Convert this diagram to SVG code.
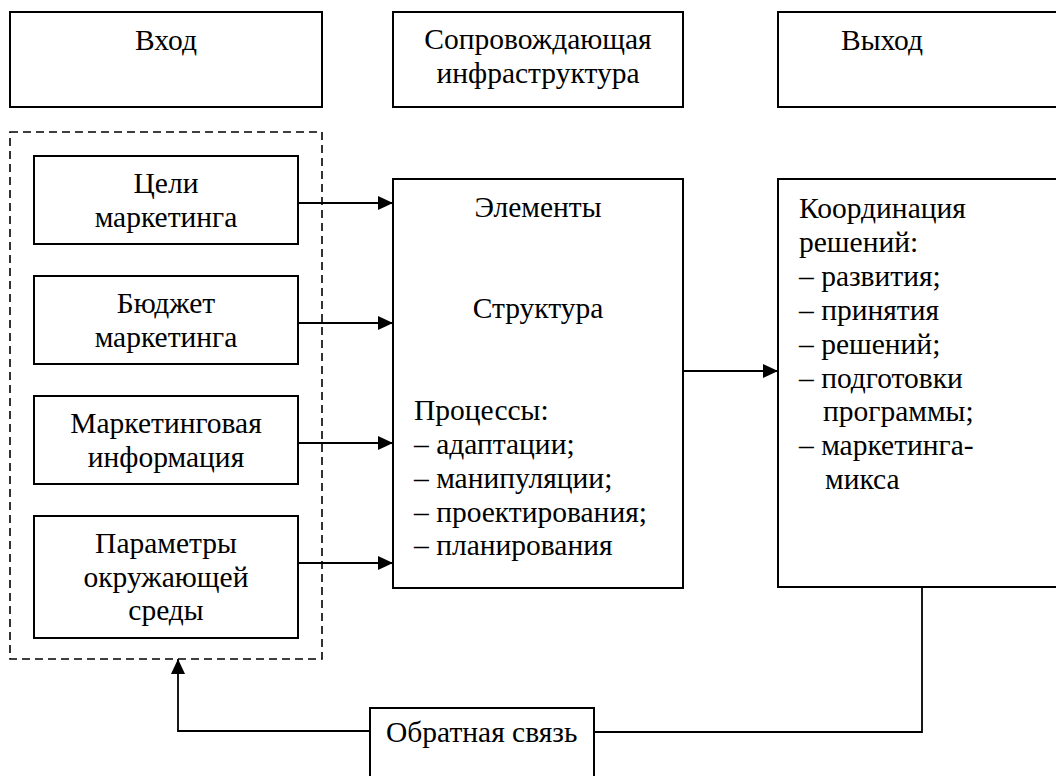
<svg xmlns="http://www.w3.org/2000/svg" width="1056" height="776" viewBox="0 0 1056 776">
<defs>
<marker id="arr" markerUnits="userSpaceOnUse" markerWidth="16" markerHeight="14" refX="15" refY="7" orient="auto">
<path d="M0,0 L15,7 L0,14 Z" fill="#000"/>
</marker>
</defs>
<rect width="1056" height="776" fill="#fff"/>
<g id="vhod" fill="#000"><rect x="10" y="12" width="312" height="95" fill="#fff" stroke="#000" stroke-width="2"/><text text-anchor="middle" font-family="Liberation Serif" font-size="29.5" x="166" y="50">Вход</text></g>
<g id="infra"><rect x="393" y="12" width="290" height="95" fill="#fff" stroke="#000" stroke-width="2"/><text text-anchor="middle" font-family="Liberation Serif" font-size="29.5" x="538" y="49">Сопровождающая</text><text text-anchor="middle" font-family="Liberation Serif" font-size="29.5" x="538" y="83">инфраструктура</text></g>
<g id="vyhod"><rect x="778" y="12" width="290" height="95" fill="#fff" stroke="#000" stroke-width="2"/><text text-anchor="middle" font-family="Liberation Serif" font-size="29.5" x="882" y="50">Выход</text></g>
<g id="input-group"><rect x="10" y="132" width="312" height="527" fill="none" stroke="#000" stroke-width="1.6" stroke-dasharray="8 5"/></g>
<g id="celi"><rect x="34" y="156" width="264" height="88" fill="#fff" stroke="#000" stroke-width="2"/><text text-anchor="middle" font-family="Liberation Serif" font-size="29.5" x="166" y="193">Цели</text><text text-anchor="middle" font-family="Liberation Serif" font-size="29.5" x="166" y="227">маркетинга</text></g>
<g id="budget"><rect x="34" y="276" width="264" height="88" fill="#fff" stroke="#000" stroke-width="2"/><text text-anchor="middle" font-family="Liberation Serif" font-size="29.5" x="166" y="313">Бюджет</text><text text-anchor="middle" font-family="Liberation Serif" font-size="29.5" x="166" y="347">маркетинга</text></g>
<g id="info"><rect x="34" y="396" width="264" height="88" fill="#fff" stroke="#000" stroke-width="2"/><text text-anchor="middle" font-family="Liberation Serif" font-size="29.5" x="166" y="433">Маркетинговая</text><text text-anchor="middle" font-family="Liberation Serif" font-size="29.5" x="166" y="467">информация</text></g>
<g id="params"><rect x="34" y="516" width="264" height="122" fill="#fff" stroke="#000" stroke-width="2"/><text text-anchor="middle" font-family="Liberation Serif" font-size="29.5" x="166" y="553">Параметры</text><text text-anchor="middle" font-family="Liberation Serif" font-size="29.5" x="166" y="587">окружающей</text><text text-anchor="middle" font-family="Liberation Serif" font-size="29.5" x="166" y="620">среды</text></g>
<g id="elements"><rect x="393" y="179" width="290" height="409" fill="#fff" stroke="#000" stroke-width="2"/>
<text text-anchor="middle" font-family="Liberation Serif" font-size="29.5" x="538" y="217">Элементы</text>
<text text-anchor="middle" font-family="Liberation Serif" font-size="29.5" x="538" y="318">Структура</text>
<text font-family="Liberation Serif" font-size="29.5" x="414" y="420">Процессы:</text>
<text font-family="Liberation Serif" font-size="29.5" x="414" y="454">– адаптации;</text>
<text font-family="Liberation Serif" font-size="29.5" x="414" y="488">– манипуляции;</text>
<text font-family="Liberation Serif" font-size="29.5" x="414" y="522">– проектирования;</text>
<text font-family="Liberation Serif" font-size="29.5" x="414" y="555">– планирования</text>
</g>
<g id="coord"><rect x="778" y="179" width="290" height="408" fill="#fff" stroke="#000" stroke-width="2"/>
<text font-family="Liberation Serif" font-size="29.5" x="799" y="218">Координация</text>
<text font-family="Liberation Serif" font-size="29.5" x="799" y="252">решений:</text>
<text font-family="Liberation Serif" font-size="29.5" x="799" y="286">– развития;</text>
<text font-family="Liberation Serif" font-size="29.5" x="799" y="320">– принятия</text>
<text font-family="Liberation Serif" font-size="29.5" x="799" y="354">– решений;</text>
<text font-family="Liberation Serif" font-size="29.5" x="799" y="388">– подготовки</text>
<text font-family="Liberation Serif" font-size="29.5" x="823" y="421">программы;</text>
<text font-family="Liberation Serif" font-size="29.5" x="799" y="455">– маркетинга-</text>
<text font-family="Liberation Serif" font-size="29.5" x="825" y="489">микса</text>
</g>
<g id="feedback"><rect x="370" y="708" width="224" height="90" fill="#fff" stroke="#000" stroke-width="2"/><text font-family="Liberation Serif" font-size="29.5" x="386" y="742">Обратная связь</text></g>
<g id="connectors" fill="none" stroke="#000" stroke-width="1.8">
<path d="M298,203 H393" marker-end="url(#arr)"/>
<path d="M298,323 H393" marker-end="url(#arr)"/>
<path d="M298,443 H393" marker-end="url(#arr)"/>
<path d="M298,563 H393" marker-end="url(#arr)"/>
<path d="M683,371 H778" marker-end="url(#arr)"/>
<path d="M922,587 V732 H594"/>
<path d="M370,731 H178 V659" marker-end="url(#arr)"/>
</g>
</svg>
